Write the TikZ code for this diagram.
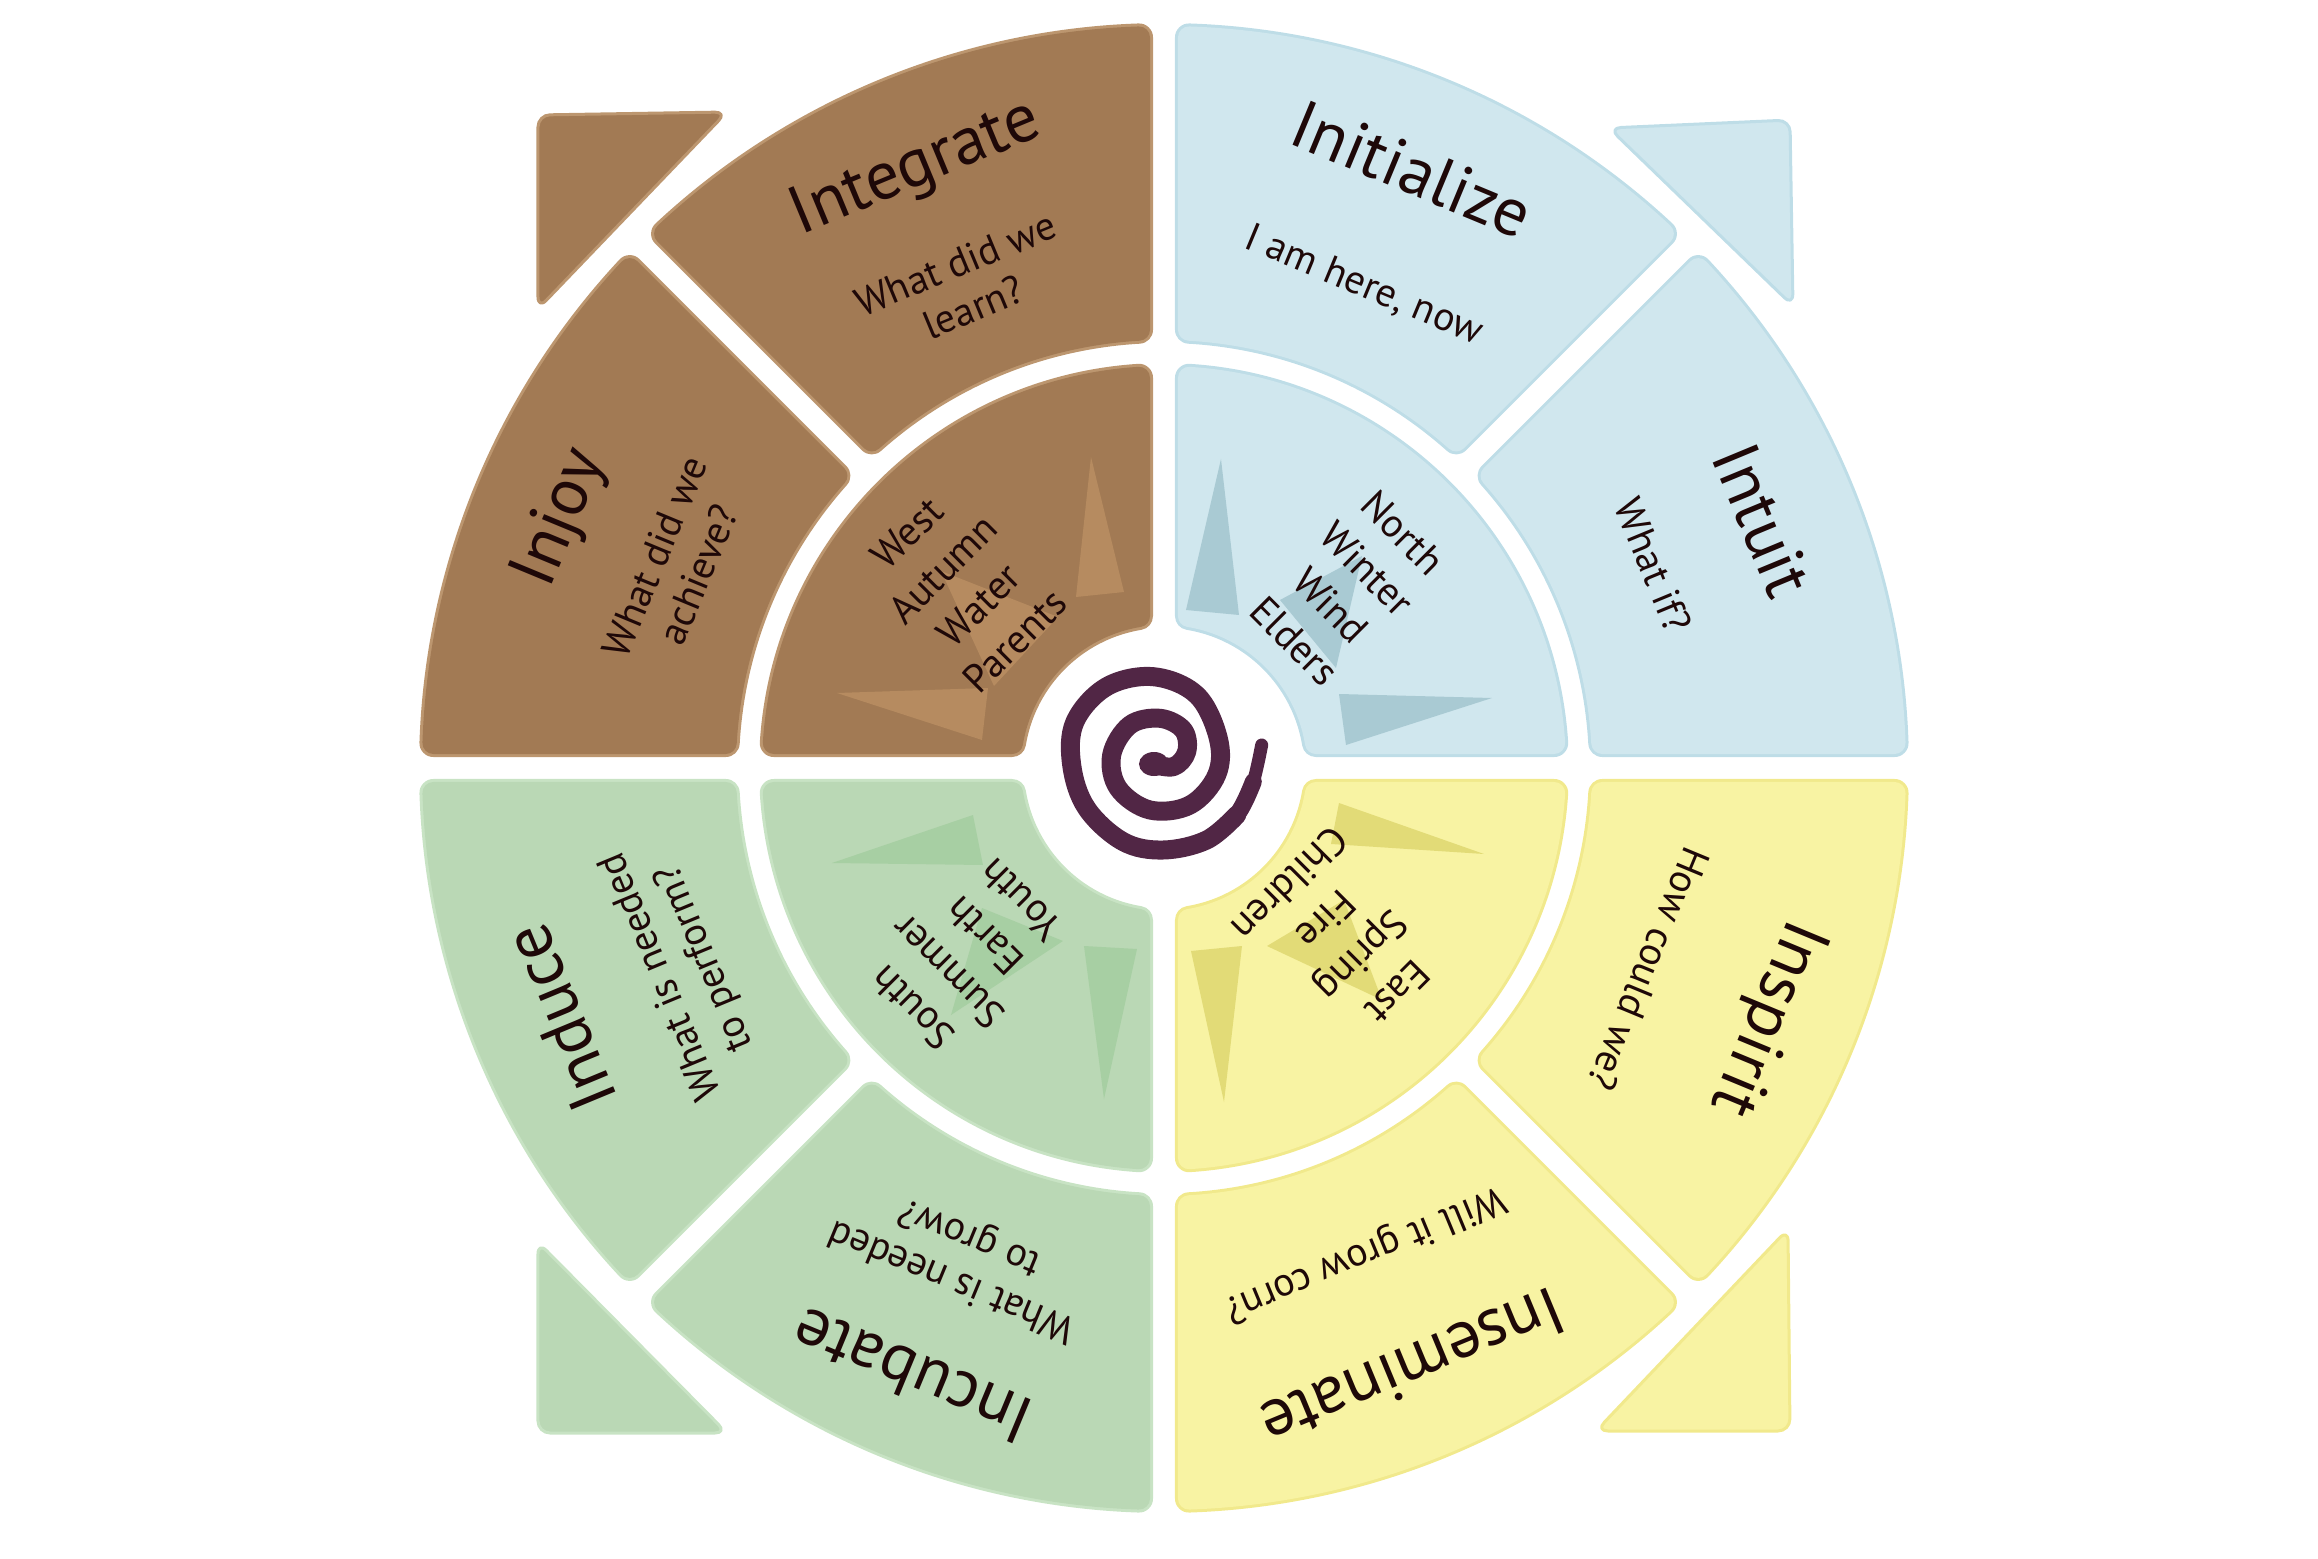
\documentclass[tikz,border=0pt]{standalone}
\usepackage{fontspec}
\setmainfont{PT Sans}
\definecolor{brownF}{HTML}{A27A54}
\definecolor{brownB}{HTML}{BC966F}
\definecolor{brownT}{HTML}{B68B60}
\definecolor{blueF}{HTML}{D0E7EE}
\definecolor{blueB}{HTML}{BEDDE7}
\definecolor{blueT}{HTML}{A9CAD3}
\definecolor{greenF}{HTML}{BAD8B5}
\definecolor{greenB}{HTML}{C8E3C4}
\definecolor{greenT}{HTML}{A7CFA3}
\definecolor{yellowF}{HTML}{F8F3A3}
\definecolor{yellowB}{HTML}{F1E98C}
\definecolor{yellowT}{HTML}{E2DB77}
\definecolor{spiralC}{HTML}{512645}
\definecolor{txt}{HTML}{1E0808}
\newcommand\gp{25}
% #1 inner radius, #2 outer radius, #3 start angle, #4 end angle (shape shrunk by 14pt)
\newcommand\sect[4]{({#3+asin(\gp/#2)}:#2) arc[start angle={#3+asin(\gp/#2)}, end angle={#4-asin(\gp/#2)}, radius=#2pt] -- ({#4-asin(\gp/#1)}:#1) arc[start angle={#4-asin(\gp/#1)}, end angle={#3+asin(\gp/#1)}, radius=#1pt] -- cycle}
\tikzset{
  piece/.style={line width=28pt, line join=round, draw=#1},
  pieceinner/.style={line width=22pt, line join=round, draw=#1, fill=#1},
  corner/.style 2 args={fill=#1, draw=#2, line width=3pt, rounded corners=12pt, line join=round},
  ttl/.style={text=txt, inner sep=0pt, font=\fontsize{68}{80}\selectfont},
  sub/.style={text=txt, inner sep=0pt, align=center, font=\fontsize{40}{47}\selectfont},
  lst/.style={text=txt, inner sep=0pt, align=center, font=\fontsize{40}{51}\selectfont},
  spiralline/.style={draw=spiralC, line cap=round, line join=round},
}
\begin{document}
\begin{tikzpicture}[x=1pt, y=1pt]
\useasboundingbox (-1164,-790) rectangle (1154,768);
% ---------- outer pieces ----------
\draw[piece=brownB] \sect{439}{731}{90}{135};
\draw[pieceinner=brownF] \sect{439}{731}{90}{135};
\draw[piece=brownB] \sect{439}{731}{135}{180};
\draw[pieceinner=brownF] \sect{439}{731}{135}{180};
\draw[piece=blueB] \sect{439}{731}{45}{90};
\draw[pieceinner=blueF] \sect{439}{731}{45}{90};
\draw[piece=blueB] \sect{439}{731}{0}{45};
\draw[pieceinner=blueF] \sect{439}{731}{0}{45};
\draw[piece=greenB] \sect{439}{731}{180}{225};
\draw[pieceinner=greenF] \sect{439}{731}{180}{225};
\draw[piece=greenB] \sect{439}{731}{225}{270};
\draw[pieceinner=greenF] \sect{439}{731}{225}{270};
\draw[piece=yellowB] \sect{439}{731}{270}{315};
\draw[pieceinner=yellowF] \sect{439}{731}{270}{315};
\draw[piece=yellowB] \sect{439}{731}{315}{360};
\draw[pieceinner=yellowF] \sect{439}{731}{315}{360};
% ---------- inner pieces ----------
\draw[piece=brownB] \sect{154}{391}{90}{180};
\draw[pieceinner=brownF] \sect{154}{391}{90}{180};
\draw[piece=blueB] \sect{154}{391}{0}{90};
\draw[pieceinner=blueF] \sect{154}{391}{0}{90};
\draw[piece=greenB] \sect{154}{391}{180}{270};
\draw[pieceinner=greenF] \sect{154}{391}{180}{270};
\draw[piece=yellowB] \sect{154}{391}{270}{360};
\draw[pieceinner=yellowF] \sect{154}{391}{270}{360};
% ---------- corner triangles ----------
\draw[corner={brownF}{brownB}] (-626,653) -- (-437,656) -- (-626,459) -- cycle;
\draw[corner={blueF}{blueB}] (445,640) -- (626,648) -- (629,462) -- cycle;
\draw[corner={greenF}{greenB}] (-626,-474) -- (-626,-665) -- (-437,-665) -- cycle;
\draw[corner={yellowF}{yellowB}] (624,-461) -- (626,-663) -- (432,-663) -- cycle;
% ---------- decorative inner triangles ----------
\fill[brownT] (-73,311) -- (-40,176) -- (-88,171) -- cycle;
\fill[brownT] (-327,75) -- (-176,80) -- (-182,28) -- cycle;
\fill[brownT] (-223,197) -- (-106,151) -- (-170,82) -- cycle;
\fill[blueT] (57,309) -- (75,153) -- (22,158) -- cycle;
\fill[blueT] (175,74) -- (328,70) -- (182,23) -- cycle;
\fill[blueT] (198,212) -- (116,168) -- (172,100) -- cycle;
\fill[greenT] (-332,-95) -- (-191,-47) -- (-181,-97) -- cycle;
\fill[greenT] (-80,-178) -- (-27,-181) -- (-60,-331) -- cycle;
\fill[greenT] (-101,-173) -- (-182,-140) -- (-213,-247) -- cycle;
\fill[yellowT] (175,-35) -- (320,-86) -- (167,-76) -- cycle;
\fill[yellowT] (27,-183) -- (78,-178) -- (60,-334) -- cycle;
\fill[yellowT] (103,-178) -- (180,-132) -- (218,-232) -- cycle;
% ---------- spiral ----------
\draw[spiralline, line width=19pt] plot[smooth, tension=0.6] coordinates {(-14,4.7) (9.3,1.3) (22.7,16.3) (19.3,38) (-4,49.7) (-34,43) (-52.3,13) (-45.7,-20.3) (-14,-42) (26,-37) (52.7,-7) (54.3,29.7) (32.7,73) (-10.7,91.3) (-57.3,81.3) (-89,46.3) (-92.3,3) (-77.3,-40.3) (-40.7,-73.7) (-0.7,-82) (42.7,-72) (72.7,-47)};
\draw[spiralline, line width=17pt] plot[smooth, tension=0.6] coordinates {(42.7,-72) (72.7,-47) (89.3,-13.7)};
\draw[spiralline, line width=13pt] plot[smooth, tension=0.6] coordinates {(82,-32) (89.3,-13.7) (94,5) (97.7,23)};
\fill[spiralC] (-10,4) ellipse[x radius=15pt, y radius=12pt];
% ---------- titles ----------
\node[ttl, rotate=22.5] (integrate) at (112.5:648) {Integrate};
\node[ttl, rotate=67.5] (injoy) at (157.5:652) {Injoy};
\node[ttl, rotate=-22.5] (initialize) at (67.5:648) {Initialize};
\node[ttl, rotate=-67.5] (intuit) at (22.5:648) {Intuit};
\node[ttl, rotate=112.5] (induce) at (202.5:654) {Induce};
\node[ttl, rotate=157.5] (incubate) at (247.5:658) {Incubate};
\node[ttl, rotate=202.5] (inseminate) at (292.5:650) {Inseminate};
\node[ttl, rotate=247.5] (inspirit) at (337.5:652) {Inspirit};
% ---------- questions ----------
\node[sub, rotate=22.5] (q-integrate) at (112.5:522) {What did we\\learn?};
\node[sub, rotate=67.5] (q-injoy) at (157.5:528) {What did we\\achieve?};
\node[sub, rotate=-22.5] (q-initialize) at (67.5:522) {I am here, now};
\node[sub, rotate=-67.5] (q-intuit) at (22.5:530) {What if?};
\node[sub, rotate=112.5] (q-induce) at (202.5:520) {What is needed\\to perform?};
\node[sub, rotate=157.5] (q-incubate) at (247.5:530) {What is needed\\to grow?};
\node[sub, rotate=202.5] (q-inseminate) at (292.5:525) {Will it grow corn?};
\node[sub, rotate=247.5] (q-inspirit) at (337.5:525) {How could we?};
% ---------- inner lists ----------
\node[lst, rotate=45] (west) at (-203,181) {West\\Autumn\\Water\\Parents};
\node[lst, rotate=-45] (north) at (185,181) {North\\Winter\\Wind\\Elders};
\node[lst, rotate=135] (south) at (-198,-186) {South\\Summer\\Earth\\Youth};
\node[lst, rotate=225] (east) at (180,-170) {East\\Spring\\Fire\\Children};
\end{tikzpicture}
\end{document}
